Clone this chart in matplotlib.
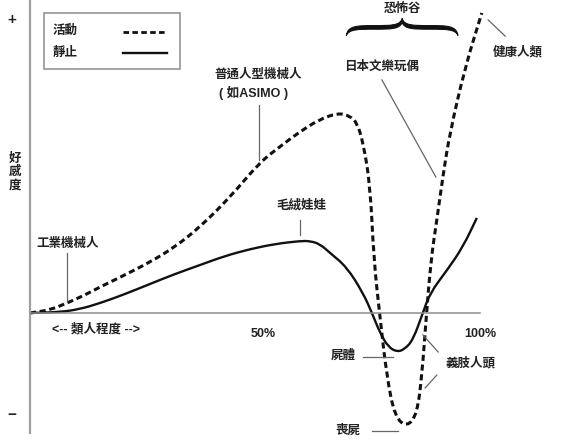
import matplotlib.pyplot as plt
from matplotlib.path import Path
from matplotlib.patches import PathPatch, Rectangle

plt.rcParams['font.family'] = ['Liberation Sans', 'Noto Sans CJK TC', 'DejaVu Sans']

# humanlikeness (%) vs affinity
moving_x = [0, 4.4, 8.2, 12.2, 15.6, 21.1, 26.7, 32.2, 37.8, 44.4, 51.1, 55.6, 59.3,
            64.0, 68.4, 71.1, 72.7, 74.0, 75.6, 76.4, 77.8, 79.3, 81.1, 83.8, 86.0,
            87.1, 88.0, 89.1, 90.4, 91.8, 93.3, 96.7, 100.4]
moving_y = [0, 1.0, 3.3, 6.0, 8.7, 12.7, 17.0, 22.0, 28.7, 38.5, 50.3, 55.5, 59.7,
            64.3, 66.7, 65.7, 63.3, 57.0, 42.7, 17.7, -1.7, -21.3, -34.7, -38.0, -33.7,
            -20.7, -2.3, 17.7, 31.0, 46.0, 60.0, 82.0, 100.0]

still_x = [0, 6.7, 11.1, 15.6, 21.1, 26.7, 32.2, 37.8, 43.3, 48.9, 54.4, 60.0, 62.2,
           64.4, 66.7, 70.4, 74.0, 76.0, 77.8, 79.6, 81.6, 83.3, 85.1, 87.3, 88.9,
           92.7, 96.2, 99.3]
still_y = [0, 0.3, 1.3, 3.3, 6.3, 9.7, 13.0, 16.0, 19.0, 21.3, 23.0, 24.0, 24.0,
           23.0, 20.0, 15.3, 6.7, 0, -6.7, -11.3, -13.0, -12.0, -9.0, 0, 6.7,
           14.3, 22.0, 31.7]

legend_labels = ['活動', '靜止']
ink = '#111111'
grey = '#8c8c8c'


def smooth_path(xs, ys):
    # quadratic beziers through the midpoints, drawn by matplotlib's Path
    pts = list(zip(xs, ys))
    verts = [pts[0]]
    codes = [Path.MOVETO]
    mid = lambda a, b: ((a[0] + b[0]) / 2, (a[1] + b[1]) / 2)
    verts.append(mid(pts[0], pts[1]))
    codes.append(Path.LINETO)
    for i in range(1, len(pts) - 1):
        verts += [pts[i], mid(pts[i], pts[i + 1])]
        codes += [Path.CURVE3, Path.CURVE3]
    verts.append(pts[-1])
    codes.append(Path.LINETO)
    return Path(verts, codes)


fig = plt.figure(figsize=(5.64, 4.42), dpi=100)
ax = fig.add_axes([0, 0, 1, 1])
ax.set_xlim(-30 / 4.5, 534 / 4.5)
ax.set_ylim(-129 / 3, 313 / 3)
ax.axis('off')

# axes
ax.plot([0, 0], [104.3, -40], color='#a0a0a0', lw=1.6)
ax.plot([0, 100], [0, 0], color=grey, lw=1.1)

dash = (0, (2.0, 1.2))
ax.add_patch(PathPatch(smooth_path(moving_x, moving_y), fill=False,
                       edgecolor=ink, lw=2.2, linestyle=dash))
ax.add_patch(PathPatch(smooth_path(still_x, still_y), fill=False,
                       edgecolor=ink, lw=1.7))

txt = dict(fontsize=9, fontweight='bold', color='#222222', ha='center', va='center')

# legend box
ax.add_patch(Rectangle((3.1, 81.3), 30.2, 18.7, fill=False, edgecolor=grey, lw=1.1))
ax.text(5.1, 94, legend_labels[0], **{**txt, 'ha': 'left'})
ax.text(5.1, 86.7, legend_labels[1], **{**txt, 'ha': 'left'})
ax.plot([20.7, 30.4], [93.7, 93.7], color=ink, lw=2.0, linestyle=dash)
ax.plot([20.7, 30.4], [86.7, 86.7], color=ink, lw=1.7)

# y-axis marks
ax.text(-4, 97.7, '+', **{**txt, 'fontsize': 11})
ax.text(-4, -34, '−', **{**txt, 'fontsize': 11})
ax.text(-3.33, 47, '好\n感\n度', linespacing=1.15, **txt)

# x labels
ax.text(14.7, -5.3, '<-- 類人程度 -->', **txt)
ax.text(51.8, -7, '50%', **txt)
ax.text(100, -7, '100%', **txt)

lead = dict(color='#666666', lw=0.9)

ax.text(8.4, 23, '工業機械人', **txt)
ax.plot([8.2, 8.2], [20, 3.7], **lead)

ax.text(50.7, 79.3, '普通人型機械人', **txt)
ax.text(49.6, 73.3, '( 如ASIMO )', **txt)
ax.plot([50.9, 50.9], [69.3, 51], **lead)

ax.text(60.2, 36, '毛絨娃娃', **txt)
ax.plot([60, 60], [31, 26], **lead)

ax.text(78.2, 82, '日本文樂玩偶', **txt)
ax.plot([78.2, 90.2], [77.7, 45.3], **lead)

ax.text(108.4, 87, '健康人類', **txt)
ax.plot([101.8, 105.6], [97.7, 92.3], **lead)

ax.text(69.6, -14.3, '屍體', **txt)
ax.plot([74, 80.7], [-14.7, -14.7], **lead)

ax.text(97.8, -16.7, '義肢人頭', **txt)
ax.plot([87.3, 90.7], [-7.3, -13], **lead)
ax.plot([87.8, 90.4], [-25, -20.7], **lead)

ax.text(70.7, -39.3, '喪屍', **txt)
ax.plot([76, 81.8], [-39.3, -39.3], **lead)

# uncanny valley brace, filled so it is thicker in the middle
ax.text(82.7, 101.3, '恐怖谷', **txt)
c, w, y0, y1, y2, t = 82.7, 12.4, 92.5, 95.2, 98.2, 0.6
top = [(c - w + 0.3, y1 + t), (c - w + 2.5, y1 + t), (c - w / 2, y1 + t),
       (c - 2.5, y1 + t), (c - 0.4, y1 + t), (c, y2),
       (c + 0.4, y1 + t), (c + 2.5, y1 + t), (c + w / 2, y1 + t),
       (c + w - 2.5, y1 + t), (c + w - 0.3, y1 + t), (c + w, y0)]
bot = [(c + w - 0.6, y1 - t), (c + w - 2.5, y1 - t), (c + w / 2, y1 - t),
       (c + 2.5, y1 - t), (c + 0.6, y1 - t), (c, y2 - 1.4),
       (c - 0.6, y1 - t), (c - 2.5, y1 - t), (c - w / 2, y1 - t),
       (c - w + 2.5, y1 - t), (c - w + 0.6, y1 - t), (c - w, y0)]
verts = [(c - w, y0)] + top + bot + [(c - w, y0)]
codes = [Path.MOVETO] + [Path.CURVE4] * 24 + [Path.CLOSEPOLY]
ax.add_patch(PathPatch(Path(verts, codes), facecolor=ink, edgecolor=ink, lw=0.8))

fig.savefig('out.png', dpi=100)
